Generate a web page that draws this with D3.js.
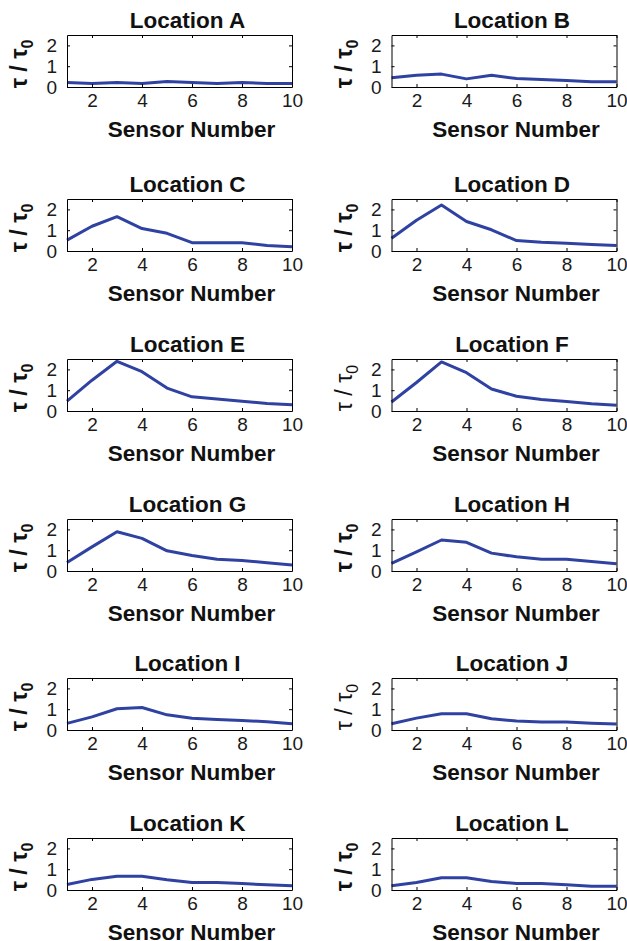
<!DOCTYPE html>
<html>
<head>
<meta charset="utf-8">
<script src="https://cdn.jsdelivr.net/npm/d3@7"></script>
<style>
  body { margin: 0; background: #fff; }
  svg { display: block; font-family: "Liberation Sans", Arial, sans-serif; }
</style>
</head>
<body>
<svg></svg>
<script>
// sensor numbers on the x axis
const sensors = [1, 2, 3, 4, 5, 6, 7, 8, 9, 10];

// tau / tau0 per location
const locA = [0.22, 0.17, 0.22, 0.17, 0.27, 0.22, 0.17, 0.22, 0.17, 0.17];
const locB = [0.45, 0.56, 0.62, 0.39, 0.56, 0.41, 0.36, 0.31, 0.25, 0.25];
const locC = [0.52, 1.19, 1.65, 1.08, 0.85, 0.40, 0.40, 0.40, 0.26, 0.21];
const locD = [0.61, 1.48, 2.21, 1.42, 1.02, 0.50, 0.42, 0.37, 0.31, 0.26];
const locE = [0.47, 1.48, 2.39, 1.89, 1.10, 0.68, 0.58, 0.47, 0.36, 0.30];
const locF = [0.43, 1.37, 2.36, 1.84, 1.06, 0.71, 0.55, 0.46, 0.35, 0.28];
const locG = [0.41, 1.16, 1.89, 1.57, 0.97, 0.75, 0.57, 0.51, 0.40, 0.29];
const locH = [0.37, 0.92, 1.49, 1.38, 0.86, 0.68, 0.57, 0.57, 0.46, 0.35];
const locI = [0.32, 0.63, 1.02, 1.08, 0.73, 0.56, 0.51, 0.46, 0.40, 0.30];
const locJ = [0.30, 0.57, 0.78, 0.78, 0.54, 0.43, 0.38, 0.38, 0.33, 0.29];
const locK = [0.26, 0.51, 0.66, 0.66, 0.49, 0.36, 0.36, 0.31, 0.25, 0.20];
const locL = [0.20, 0.36, 0.59, 0.59, 0.41, 0.31, 0.31, 0.25, 0.18, 0.18];

const locations = ['A', 'B', 'C', 'D', 'E', 'F', 'G', 'H', 'I', 'J', 'K', 'L'];
const series = [locA, locB, locC, locD, locE, locF, locG, locH, locI, locJ, locK, locL];

// tick labels
const xTicks = [2, 4, 6, 8, 10];
const yTicks = [0, 1, 2];

// these two panels have a plain (non-bold) y label
const plainLabel = ['F', 'J'];

/* ---------- layout ---------- */
const W = 627, H = 941;
const colLeft = [67, 391.5];
const rowTop = [35, 199, 359, 519, 678, 838];
const PW = 225, PH = 52;
const LINE_COLOR = '#2f42a2';
const FONT = '"Liberation Sans", Arial, sans-serif';

const svg = d3.select('svg').attr('width', W).attr('height', H);
svg.append('rect').attr('width', W).attr('height', H).attr('fill', '#fff');

const x = d3.scaleLinear().domain([1, 10]).range([0, PW]);
const y = d3.scaleLinear().domain([0, 2.5]).range([PH, 0]);

locations.forEach((loc, i) => {
    const left = colLeft[i % 2];
    const top = rowTop[Math.floor(i / 2)];
    const g = svg.append('g').attr('transform', `translate(${left},${top})`);

    // line
    const data = sensors.map((s, k) => ({s: s, v: series[i][k]}));
    g.append('path')
        .datum(data)
        .attr('fill', 'none')
        .attr('stroke', LINE_COLOR)
        .attr('stroke-width', 3)
        .attr('stroke-linejoin', 'round')
        .attr('d', d3.line().x(d => x(d.s)).y(d => y(d.v)));

    // axes: bottom / left with inward ticks, top / right mirror
    const bottom = g.append('g').attr('transform', `translate(0,${PH})`)
        .call(d3.axisBottom(x).tickValues(xTicks).tickSize(-3).tickSizeOuter(0).tickFormat(d3.format('d')));
    const topAx = g.append('g')
        .call(d3.axisTop(x).tickValues(xTicks).tickSize(-3).tickSizeOuter(0).tickFormat(''));
    const leftAx = g.append('g')
        .call(d3.axisLeft(y).tickValues(yTicks).tickSize(-3).tickSizeOuter(0).tickPadding(10).tickFormat(d3.format('d')));
    const rightAx = g.append('g').attr('transform', `translate(${PW},0)`)
        .call(d3.axisRight(y).tickValues(yTicks).tickSize(-3).tickSizeOuter(0).tickFormat(''));

    [bottom, topAx, leftAx, rightAx].forEach(a => {
        a.select('.domain').attr('stroke', '#000').attr('stroke-width', 1);
        a.selectAll('.tick line').attr('stroke', '#000');
        a.selectAll('.tick text')
            .attr('fill', '#1a1a1a')
            .style('font-family', FONT)
            .style('font-size', '19px');
    });
    bottom.selectAll('.tick text').attr('dy', '0.71em').attr('y', 7);

    // title
    g.append('text')
        .attr('x', PW / 2 + 8)
        .attr('y', -7)
        .attr('text-anchor', 'middle')
        .style('font-family', FONT)
        .style('font-size', '22.5px')
        .style('font-weight', 'bold')
        .attr('fill', '#111')
        .text('Location ' + loc);

    // x label
    g.append('text')
        .attr('x', PW / 2 + 12)
        .attr('y', PH + 50)
        .attr('text-anchor', 'middle')
        .style('font-family', FONT)
        .style('font-size', '22.5px')
        .style('font-weight', 'bold')
        .attr('fill', '#111')
        .text('Sensor Number');

    // y label  tau / tau_0
    const yl = g.append('text')
        .attr('transform', `translate(-40,${PH / 2 + 3}) rotate(-90)`)
        .attr('text-anchor', 'middle')
        .style('font-family', FONT)
        .style('font-size', '23px')
        .style('font-weight', plainLabel.includes(loc) ? 'normal' : 'bold')
        .attr('fill', '#111');
    yl.append('tspan').text('\u03c4 / \u03c4');
    yl.append('tspan').attr('dy', 6).style('font-size', '16px').text('0');
});
</script>
</body>
</html>
